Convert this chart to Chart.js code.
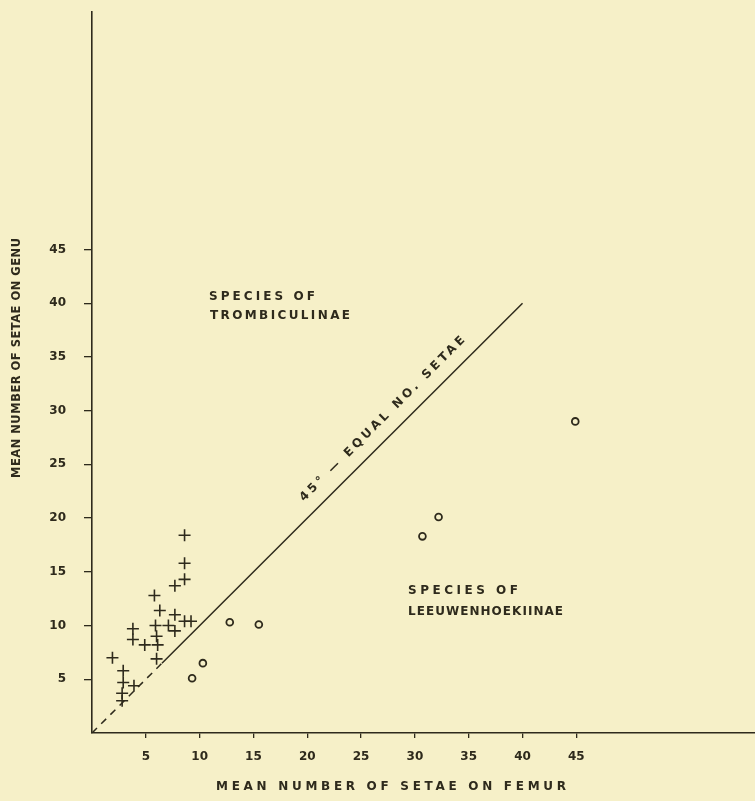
<!DOCTYPE html>
<html>
<head>
<meta charset="utf-8">
<script src="https://cdn.jsdelivr.net/npm/chart.js@4.4.1/dist/chart.umd.min.js"></script>
<style>
  html, body { margin: 0; padding: 0; background: #f6f0c8; }
  #wrap { width: 755px; height: 801px; }
</style>
</head>
<body>
<div id="wrap"><canvas id="c" width="755" height="801"></canvas></div>
<script>
// Trombiculinae (+) – mean setae on femur / genu
const tromFemur = [1.9, 2.9, 2.9, 2.8, 2.8, 3.9, 3.8, 3.8, 4.9, 6.1, 5.9, 6.0, 6.0, 5.8, 6.3, 7.1, 7.7, 7.7, 7.7, 8.6, 8.6, 8.6, 8.6, 9.2];
const tromGenu  = [7.0, 5.8, 4.7, 3.7, 3.0, 4.4, 9.7, 8.7, 8.2, 8.2, 10.0, 9.0, 6.9, 12.8, 11.4, 10.0, 11.0, 9.5, 13.7, 14.3, 15.8, 18.4, 10.4, 10.4];

// Leeuwenhoekiinae (o)
const leeuFemur = [9.3, 10.3, 12.8, 15.5, 30.7, 32.2, 44.9];
const leeuGenu  = [5.1, 6.5, 10.3, 10.1, 18.3, 20.1, 29.0];

// 45 degree line (equal number of setae), dashed near the origin
const equalDashed = [0, 6.5];
const equalSolid  = [6.5, 40];

const xTicks = [5, 10, 15, 20, 25, 30, 35, 40, 45];
const yTicks = [5, 10, 15, 20, 25, 30, 35, 40, 45];

const INK = "#2e2a1c";
const FONT = "'DejaVu Sans', sans-serif";

const pts = (xs, ys) => xs.map((x, i) => ({ x, y: ys[i] }));
const diag = (vals) => vals.map((v) => ({ x: v, y: v }));

// draws text stretched (letter spaced) to a given width
function spaced(ctx, text, x, y, width) {
  ctx.letterSpacing = "0px";
  const w0 = ctx.measureText(text).width;
  const sp = Math.max(0, (width - w0) / (text.length - 1));
  ctx.letterSpacing = sp + "px";
  ctx.fillText(text, x, y);
  ctx.letterSpacing = "0px";
}

const labels = {
  id: "labels",
  afterDraw(chart) {
    const { ctx, scales: { x, y } } = chart;
    ctx.save();
    ctx.fillStyle = INK;
    ctx.textBaseline = "middle";
    ctx.textAlign = "left";

    ctx.font = "bold 12px " + FONT;
    spaced(ctx, "SPECIES OF", 209, 297, 106);
    spaced(ctx, "TROMBICULINAE", 210, 316, 140);
    spaced(ctx, "SPECIES OF", 408, 591, 110);
    spaced(ctx, "LEEUWENHOEKIINAE", 408, 612, 155);

    ctx.font = "bold 12px " + FONT;
    spaced(ctx, "MEAN NUMBER OF SETAE ON FEMUR", 216, 787, 350);

    ctx.save();
    ctx.font = "bold 11.5px " + FONT;
    ctx.translate(17, 478);
    ctx.rotate(-Math.PI / 2);
    spaced(ctx, "MEAN NUMBER OF SETAE ON GENU", 0, 0, 240);
    ctx.restore();

    // label along the 45° line
    const x0 = x.getPixelForValue(28.1), y0 = y.getPixelForValue(28.1);
    const x1 = x.getPixelForValue(40), y1 = y.getPixelForValue(40);
    const ang = Math.atan2(y1 - y0, x1 - x0);
    ctx.save();
    ctx.translate(x0 - 12, y0 - 12);
    ctx.rotate(ang);
    ctx.font = "bold 12px " + FONT;
    const w = 228;
    spaced(ctx, "45° — EQUAL NO. SETAE", -w / 2, 0, w);
    ctx.restore();

    ctx.restore();
  },
};

const bg = {
  id: "bg",
  beforeDraw(chart) {
    const { ctx, width, height } = chart;
    ctx.save();
    ctx.fillStyle = "#f6f0c8";
    ctx.fillRect(0, 0, width, height);
    ctx.restore();
  },
};

new Chart(document.getElementById("c"), {
  type: "scatter",
  data: {
    datasets: [
      {
        data: diag(equalDashed),
        showLine: true,
        borderColor: INK,
        borderWidth: 1.5,
        borderDash: [7, 6],
        pointRadius: 0,
      },
      {
        data: diag(equalSolid),
        showLine: true,
        borderColor: INK,
        borderWidth: 1.5,
        pointRadius: 0,
      },
      {
        label: "Trombiculinae",
        data: pts(tromFemur, tromGenu),
        pointStyle: "cross",
        pointRadius: 6,
        borderColor: INK,
        borderWidth: 1.6,
      },
      {
        label: "Leeuwenhoekiinae",
        data: pts(leeuFemur, leeuGenu),
        pointStyle: "circle",
        pointRadius: 3.4,
        backgroundColor: "rgba(0,0,0,0)",
        borderColor: INK,
        borderWidth: 1.8,
      },
    ],
  },
  options: {
    responsive: false,
    animation: false,
    layout: { autoPadding: false, padding: { top: 0, right: 0, left: 0, bottom: 0 } },
    plugins: {
      legend: { display: false },
      tooltip: { enabled: false },
    },
    scales: {
      x: {
        type: "linear",
        min: 0,
        max: 61.6,
        afterBuildTicks: (axis) => { axis.ticks = xTicks.map((v) => ({ value: v })); },
        afterFit: (axis) => { axis.height = 68; axis.paddingRight = 0; },
        grid: { drawOnChartArea: false, color: INK, tickLength: 5, lineWidth: 1.3 },
        border: { color: INK, width: 1.6 },
        ticks: { color: INK, padding: 12, font: { family: FONT, size: 12, weight: "bold" } },
      },
      y: {
        type: "linear",
        min: 0,
        max: 67.1,
        afterBuildTicks: (axis) => { axis.ticks = yTicks.map((v) => ({ value: v })); },
        afterFit: (axis) => { axis.width = 92; axis.paddingTop = 12; },
        grid: { drawOnChartArea: false, color: INK, tickLength: 8, lineWidth: 1.3 },
        border: { color: INK, width: 1.6 },
        ticks: { color: INK, padding: 18, font: { family: FONT, size: 12, weight: "bold" } },
      },
    },
  },
  plugins: [bg, labels],
});
</script>
</body>
</html>
